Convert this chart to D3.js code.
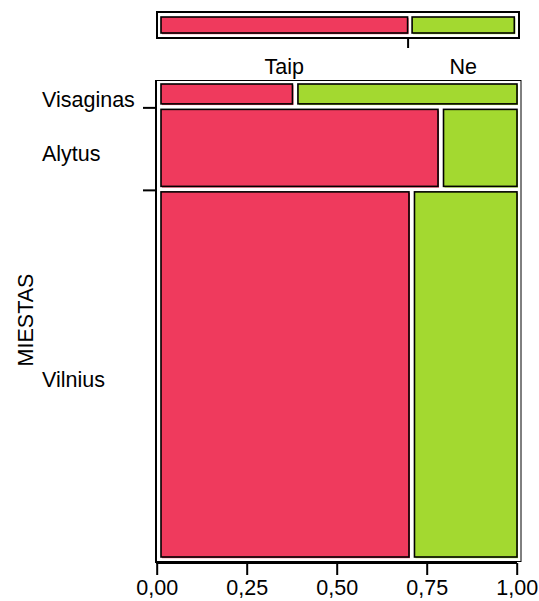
<!DOCTYPE html>
<html>
<head>
<meta charset="utf-8">
<script src="https://d3js.org/d3.v7.min.js"></script>
<style>
  html, body { margin: 0; padding: 0; background: #fff; }
  svg text { font-family: "Liberation Sans", Arial, Helvetica, sans-serif; fill: #000; }
</style>
</head>
<body>
<svg id="chart" width="539" height="601"></svg>
<script>
// ---- data ----
const cities = ["Visaginas", "Alytus", "Vilnius"];
const answers = ["Taip", "Ne"];
const taipCounts = [6, 49, 208];
const neCounts = [10, 13, 86];
const xTickValues = [0, 0.25, 0.5, 0.75, 1];
const yTitle = "MIESTAS";
const colors = ["#EF3A5D", "#A3D930"];

// ---- derived ----
const rowTotals = cities.map((c, i) => taipCounts[i] + neCounts[i]);
const grand = d3.sum(rowTotals);
const rowFrac = rowTotals.map(t => t / grand);
const rowTaip = cities.map((c, i) => taipCounts[i] / rowTotals[i]);
const totalTaip = d3.sum(taipCounts) / grand;

const svg = d3.select("#chart");
const gap = 5.5;
const FS = 21.5;

// main scales
const xAxisScale = d3.scaleLinear().domain([0, 1]).range([156.7, 516.7]);
const xCell = d3.scaleLinear().domain([0, 1]).range([161, 517 - gap]);
const yCell = d3.scaleLinear().domain([0, 1]).range([84, 557 - gap * (cities.length - 1)]);

// frame
svg.append("rect").attr("x", 156).attr("y", 80.5).attr("width", 365).attr("height", 481)
  .attr("fill", "none").attr("stroke", "#000").attr("stroke-width", 1);
svg.append("line").attr("x1", 156).attr("x2", 156).attr("y1", 80).attr("y2", 563)
  .attr("stroke", "#000").attr("stroke-width", 2);

// cells
let cum = 0;
const rows = cities.map((c, i) => {
  const y0 = yCell(cum) + i * gap;
  cum += rowFrac[i];
  const y1 = yCell(cum) + i * gap;
  return { city: c, y0, y1, p: rowTaip[i] };
});

function drawCell(x0, x1, y0, y1, color) {
  svg.append("rect").attr("x", x0 + 1).attr("y", y0 + 1.2)
    .attr("width", x1 - x0).attr("height", y1 - y0).attr("fill", color);
  svg.append("rect").attr("x", x0).attr("y", y0)
    .attr("width", x1 - x0).attr("height", y1 - y0)
    .attr("fill", color).attr("stroke", "#000").attr("stroke-width", 1.6);
}

rows.forEach(r => {
  drawCell(xCell(0), xCell(r.p), r.y0, r.y1, colors[0]);
  drawCell(xCell(r.p) + gap, xCell(1) + gap, r.y0, r.y1, colors[1]);
  svg.append("text").attr("x", 42).attr("y", (r.y0 + r.y1) / 2 + 13)
    .attr("font-size", FS).text(r.city);
});

// y ticks between rows
rows.slice(1).forEach(r => {
  svg.append("line").attr("x1", 143).attr("x2", 157)
    .attr("y1", r.y0 - 1.5).attr("y2", r.y0 - 1.5)
    .attr("stroke", "#000").attr("stroke-width", 2);
});

// y title
svg.append("text").attr("transform", "translate(33,320) rotate(-90)")
  .attr("text-anchor", "middle").attr("font-size", FS).text(yTitle);

// x axis
const xAxis = d3.axisBottom(xAxisScale).tickValues(xTickValues).tickSize(12).tickPadding(5)
  .tickFormat(d => d3.format(".2f")(d).replace(".", ","));
const gx = svg.append("g").attr("transform", "translate(0,563)").call(xAxis);
gx.select(".domain").attr("stroke-width", 2).attr("d", "M156,0H517");
gx.selectAll(".tick line").attr("stroke-width", 2);
gx.selectAll(".tick text").attr("font-size", FS)
  .attr("font-family", "'Liberation Sans', Arial, sans-serif").attr("fill", "#000");

// top marginal bar
svg.append("rect").attr("x", 157).attr("y", 12).attr("width", 362).attr("height", 26)
  .attr("fill", "none").attr("stroke", "#000").attr("stroke-width", 2);
const topGap = 4.5;
const xTop = d3.scaleLinear().domain([0, 1]).range([161, 514.3 - topGap]);
drawCell(xTop(0), xTop(totalTaip), 17, 33, colors[0]);
drawCell(xTop(totalTaip) + topGap, xTop(1) + topGap, 17, 33, colors[1]);
svg.append("line").attr("x1", xTop(totalTaip) + 0.5).attr("x2", xTop(totalTaip) + 0.5)
  .attr("y1", 38).attr("y2", 48).attr("stroke", "#000").attr("stroke-width", 2);

// answer labels
const ansCenters = [(xTop(0) + xTop(totalTaip)) / 2, (xTop(totalTaip) + topGap + xTop(1) + topGap) / 2];
answers.forEach((a, i) => {
  svg.append("text").attr("x", ansCenters[i]).attr("y", 74)
    .attr("text-anchor", "middle").attr("font-size", FS).text(a);
});
</script>
</body>
</html>
